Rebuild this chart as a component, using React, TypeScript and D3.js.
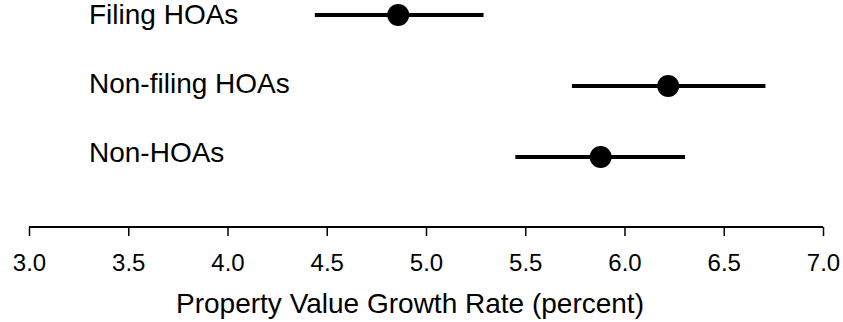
import React, { useEffect, useRef } from 'react';
import * as d3 from 'd3';

// Estimates with confidence intervals
const groups = ['Filing HOAs', 'Non-filing HOAs', 'Non-HOAs'];
const estimates = [4.86, 6.22, 5.88];
const lower = [4.44, 5.735, 5.45];
const upper = [5.29, 6.71, 6.305];
const xTicks = [3.0, 3.5, 4.0, 4.5, 5.0, 5.5, 6.0, 6.5, 7.0];
const xTitle = 'Property Value Growth Rate (percent)';

const width = 843;
const height = 322;
const font = '"Liberation Sans", Arial, sans-serif';

const App: React.FC = () => {
  const svgRef = useRef<SVGSVGElement>(null);

  useEffect(() => {
    if (!svgRef.current) return;
    const svg = d3.select(svgRef.current);
    svg.selectAll('*').remove();

    const x = d3.scaleLinear().domain([3, 7]).range([29, 823]);
    const y = d3.scalePoint<string>().domain(groups).range([15, 157]);
    // labels sit on a slightly tighter spacing than the marks
    const yLab = d3.scalePoint<string>().domain(groups).range([24, 162]);

    const rows = groups.map((g, i) => ({ g, est: estimates[i], lo: lower[i], hi: upper[i] }));

    // Group labels
    svg.append('g')
      .selectAll('text')
      .data(rows)
      .enter()
      .append('text')
      .attr('x', 89)
      .attr('y', d => yLab(d.g) as number)
      .attr('font-family', font)
      .attr('font-size', '28px')
      .attr('fill', '#000')
      .text(d => d.g);

    // Interval lines
    svg.append('g')
      .selectAll('line')
      .data(rows)
      .enter()
      .append('line')
      .attr('x1', d => x(d.lo))
      .attr('x2', d => x(d.hi))
      .attr('y1', d => y(d.g) as number)
      .attr('y2', d => y(d.g) as number)
      .attr('stroke', '#000')
      .attr('stroke-width', 4);

    // Point estimates
    svg.append('g')
      .selectAll('circle')
      .data(rows)
      .enter()
      .append('circle')
      .attr('cx', d => x(d.est))
      .attr('cy', d => y(d.g) as number)
      .attr('r', 11)
      .attr('fill', '#000');

    // X axis
    const axisY = 227;
    const axis = svg.append('g')
      .attr('transform', `translate(0,${axisY})`)
      .call(d3.axisBottom(x).tickValues(xTicks).tickSizeOuter(0).tickSize(9).tickFormat(d3.format('.1f')));
    axis.select('.domain')
      .attr('d', `M${x(3)},0H${x(7)}`)
      .attr('stroke', '#000')
      .attr('stroke-width', 2.2);
    axis.selectAll('.tick line').attr('stroke', '#000').attr('stroke-width', 1.5);
    axis.selectAll('.tick text')
      .attr('font-family', font)
      .attr('font-size', '24px')
      .attr('fill', '#000')
      .attr('dy', null)
      .attr('y', 44);

    svg.append('text')
      .attr('x', 410)
      .attr('y', 313)
      .attr('text-anchor', 'middle')
      .attr('font-family', font)
      .attr('font-size', '28px')
      .attr('fill', '#000')
      .text(xTitle);
  }, []);

  return (
    <svg
      ref={svgRef}
      width={width}
      height={height}
      viewBox={`0 0 ${width} ${height}`}
      style={{ position: 'absolute', left: 0, top: 0, background: '#fff' }}
    />
  );
};

export default App;
